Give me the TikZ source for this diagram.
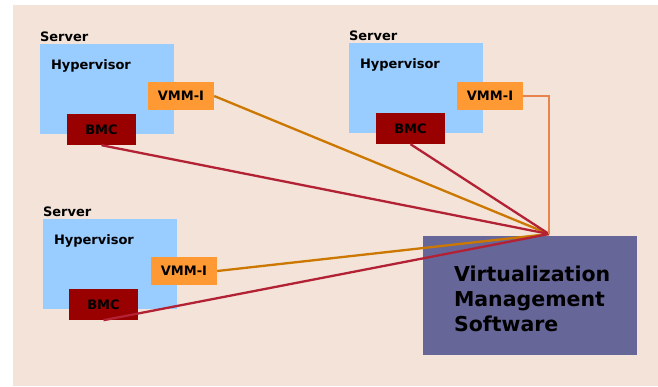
\documentclass[tikz,border=0pt]{standalone}
\usepackage{fontspec}
\setmainfont{DejaVu Sans}
\definecolor{bgbeige}{HTML}{F3E3D8}
\definecolor{hypblue}{HTML}{99CCFF}
\definecolor{vmmorange}{HTML}{FF9933}
\definecolor{bmcred}{HTML}{990000}
\definecolor{vmspurple}{HTML}{666699}
\definecolor{vmmline}{HTML}{CC7700}
\definecolor{bmcline}{HTML}{B22234}
\definecolor{vmmline2}{HTML}{E8834E}
\begin{document}
\begin{tikzpicture}[x=1pt,y=-1pt,
    box/.style={inner sep=0pt,font=\bfseries\fontsize{13}{15}\selectfont},
    hyp/.style={box,fill=hypblue,minimum width=134pt,minimum height=90pt,
        label={[box,anchor=base west,yshift=2pt]north west:Server},
        label={[box,anchor=north west,xshift=11pt,yshift=-16pt]north west:Hypervisor}},
    vmmi/.style={box,fill=vmmorange,minimum width=66pt,minimum height=28pt},
    bmc/.style={box,fill=bmcred,minimum width=69pt,minimum height=31pt},
    vms/.style={box,fill=vmspurple,minimum width=214pt,minimum height=119pt},
    wire/.style={line width=2.3pt}]
            \useasboundingbox (0,0) rectangle (658,386);
            \fill[bgbeige] (13,5) rectangle (658,386);
            % servers
            \node[hyp] (h1) at (107,89) {};
            \node[hyp] (h2) at (416,88) {};
            \node[hyp] (h3) at (110,264) {};
            \node[vmmi] (v1) at (181,96) {VMM-I};
            \node[vmmi] (v2) at (490,96) {VMM-I};
            \node[vmmi] (v3) at (184,271) {VMM-I};
            \node[bmc] (b1) at (101.5,129.5) {BMC};
            \node[bmc] (b2) at (410.5,128.5) {BMC};
            \node[bmc] (b3) at (103.5,304.5) {BMC};
            % management
            \node[vms,label={[anchor=north west,align=left,inner sep=0pt,
                font=\bfseries\fontsize{20.5}{25}\selectfont,
                xshift=31pt,yshift=-30pt]north west:Virtualization\\Management\\Software}]
                (m) at (530,295.5) {};
            \coordinate (hub) at (549,234);
            \draw[wire,vmmline]  (v1.east) -- (hub);
            \draw[wire,vmmline]  (v3.east) -- (hub);
            \draw[wire,bmcline]  (b1.south) -- (hub);
            \draw[wire,bmcline]  (b2.south) -- (hub);
            \draw[wire,bmcline]  (b3.south) -- (hub);
            \draw[wire,vmmline2] (v2.east) -| (hub);
        \end{tikzpicture}
\end{document}
